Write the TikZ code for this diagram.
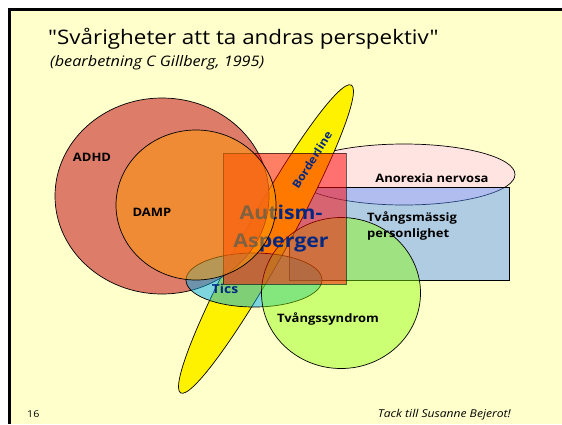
\documentclass[tikz,border=0pt]{standalone}
\usepackage{fontspec}
\setmainfont{Open Sans}[FakeStretch=1.12]
\newfontfamily\plainfont{Open Sans}[FakeStretch=1.12]
\definecolor{bgy}{RGB}{255,255,204}
\definecolor{anorx}{RGB}{255,228,225}
\definecolor{bluec}{RGB}{80,142,255}
\definecolor{adhdc}{RGB}{216,102,88}
\definecolor{dampc}{RGB}{255,155,0}
\definecolor{greenc}{RGB}{137,255,0}
\definecolor{navy}{RGB}{0,40,130}
\begin{document}
\begin{tikzpicture}[x=1pt,y=-1pt,
  shp/.style={draw=black, line width=0.7pt},
  lbl/.style={font=\bfseries\fontsize{11.6}{13}\selectfont, text=black, inner sep=0pt},
  nlbl/.style={font=\bfseries\fontsize{12.4}{14}\selectfont, text=navy, inner sep=0pt}]
\useasboundingbox (0,0) rectangle (562,424);
\fill[white] (0,0) rectangle (562,424);
\fill[black] (8,8) rectangle (562,424);
\fill[bgy] (11,11) rectangle (562,424);
% shapes
\filldraw[shp, fill=anorx] (404,174.5) ellipse [x radius=111, y radius=30.5];
\filldraw[shp, fill=bluec, fill opacity=.45] (289,187) rectangle (509,280);
\begin{scope}[shift={(266,239)}, rotate=61]
  \filldraw[shp, fill=yellow] (0,0) ellipse [x radius=176, y radius=22];
\end{scope}
\filldraw[shp, fill=adhdc, fill opacity=.85] (162,196) ellipse [x radius=107, y radius=98];
\filldraw[shp, fill=cyan, fill opacity=.5] (254,280) ellipse [x radius=68, y radius=27];
\filldraw[shp, fill=greenc, fill opacity=.43] (341,293) ellipse [x radius=79.5, y radius=75.5];
\filldraw[shp, fill=red, fill opacity=.5, draw opacity=.6] (223,153) rectangle (346,284);
\node[font=\bfseries\fontsize{19}{28}\selectfont, text=navy, align=center, inner sep=0pt] (aut) at (281,229) {Autism-\\Asperger};
\filldraw[shp, fill=dampc, fill opacity=.5] (196,205) ellipse [x radius=80, y radius=75];
% labels
\node[lbl] (adhd) at (92,157) {ADHD};
\node[lbl] (damp) at (152,212) {DAMP};
\node[nlbl] (tics) at (225,289) {Tics};
\node[nlbl, font=\bfseries\fontsize{11}{12}\selectfont, rotate=58] (bord) at (312,160) {Borderline};
\node[lbl] (anor) at (432,178) {Anorexia nervosa};
\node[lbl, anchor=north west, align=left, font=\bfseries\fontsize{11.6}{16}\selectfont] (tvp) at (367,212) {Tvångsmässig\\personlighet};
\node[lbl] (tvs) at (328,319) {Tvångssyndrom};
% title
\node[anchor=base west, inner sep=0pt, font=\plainfont\fontsize{20}{24}\selectfont] (title) at (48,44) {"Svårigheter att ta andras perspektiv"};
\node[anchor=base west, inner sep=0pt, font=\itshape\fontsize{14.5}{16}\selectfont] (sub) at (50,66) {(bearbetning C Gillberg, 1995)};
\node[anchor=base west, inner sep=0pt, font=\fontsize{9.5}{11}\selectfont] (num) at (27,417) {16};
\node[anchor=base east, inner sep=0pt, font=\itshape\fontsize{10.8}{12}\selectfont] (tack) at (511,417) {Tack till Susanne Bejerot!};
\end{tikzpicture}
\end{document}
